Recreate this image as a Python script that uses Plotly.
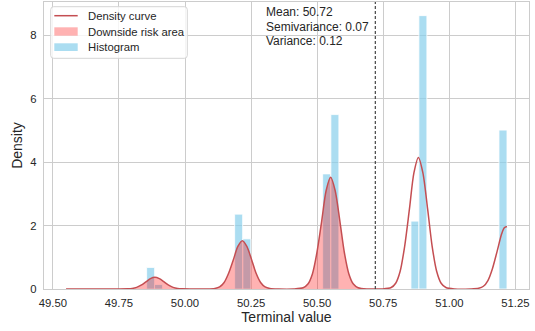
import plotly.graph_objects as go

# ---- data ----
bin_centers = [49.870, 49.900, 50.203, 50.234, 50.536, 50.567, 50.870, 50.900, 51.203]
bin_heights = [0.68, 0.14, 2.36, 1.58, 3.63, 5.50, 2.14, 8.62, 5.01]
bin_width = 0.0303

curve_x = [49.55, 49.75, 49.783, 49.800, 49.817, 49.834, 49.852, 49.869, 49.886, 49.903, 49.921,
           49.938, 49.955, 49.972, 49.990, 50.02,
           50.08, 50.113, 50.131, 50.148, 50.165, 50.183, 50.200, 50.217, 50.234, 50.252, 50.269,
           50.286, 50.303, 50.321, 50.355,
           50.41, 50.447, 50.465, 50.482, 50.499, 50.517, 50.534, 50.551, 50.568, 50.586, 50.603,
           50.620, 50.637, 50.655, 50.69,
           50.72, 50.745, 50.780, 50.797, 50.814, 50.831, 50.849, 50.866, 50.883, 50.900, 50.918,
           50.935, 50.952, 50.969, 50.987, 51.02,
           51.08, 51.111, 51.129, 51.146, 51.163, 51.181, 51.198, 51.208, 51.218]
curve_y = [0.000, 0.000, 0.004, 0.016, 0.050, 0.120, 0.224, 0.327, 0.370, 0.327, 0.224,
           0.120, 0.050, 0.016, 0.004, 0.000,
           0.000, 0.017, 0.067, 0.206, 0.494, 0.922, 1.341, 1.520, 1.341, 0.922, 0.494,
           0.206, 0.067, 0.017, 0.000,
           0.001, 0.039, 0.155, 0.476, 1.143, 2.135, 3.106, 3.520, 3.106, 2.135, 1.143,
           0.476, 0.155, 0.039, 0.000,
           0.000, 0.001, 0.046, 0.182, 0.561, 1.347, 2.517, 3.662, 4.150, 3.662, 2.517,
           1.347, 0.561, 0.182, 0.046, 0.001,
           0.001, 0.022, 0.086, 0.267, 0.640, 1.195, 1.739, 1.930, 1.970]

mean_value = 50.72
semivariance = 0.07
variance = 0.12

x_ticks = [49.50, 49.75, 50.00, 50.25, 50.50, 50.75, 51.00, 51.25]
x_tick_labels = ["49.50", "49.75", "50.00", "50.25", "50.50", "50.75", "51.00", "51.25"]
y_ticks = [0, 2, 4, 6, 8]

legend_labels = ["Density curve", "Downside risk area", "Histogram"]

# downside part of the curve
fill_x = [x for x in curve_x if x <= mean_value]
fill_y = [y for x, y in zip(curve_x, curve_y) if x <= mean_value]

FONT = "Liberation Sans, Arial, sans-serif"
TXT = "#262626"
LINE_C = "#C44E52"
FILL_C = "rgba(255,0,0,0.3)"
BAR_C = "rgba(135,206,235,0.7)"

W, H = 535, 331
ML, MR, MT, MB = 44, 6, 2, 42
PW, PH = W - ML - MR, H - MT - MB


def px(xpix):
    return (xpix - ML) / PW


def py(ypix):
    return (H - MB - ypix) / PH


def rounded_rect_path(x0, y0, x1, y1, r):
    # pixel coords (y down) -> paper-coordinate SVG path with rounded corners
    rx, ry = r / PW, r / PH
    X0, X1, Y0, Y1 = px(x0), px(x1), py(y1), py(y0)  # Y0 bottom, Y1 top
    return (f"M {X0 + rx},{Y0} L {X1 - rx},{Y0} Q {X1},{Y0} {X1},{Y0 + ry} "
            f"L {X1},{Y1 - ry} Q {X1},{Y1} {X1 - rx},{Y1} "
            f"L {X0 + rx},{Y1} Q {X0},{Y1} {X0},{Y1 - ry} "
            f"L {X0},{Y0 + ry} Q {X0},{Y0} {X0 + rx},{Y0} Z")


fig = go.Figure()
fig.add_trace(go.Bar(
    x=bin_centers, y=bin_heights, width=bin_width, name=legend_labels[2],
    marker=dict(color=BAR_C, line=dict(color="white", width=0.8)), showlegend=False,
))
fig.add_trace(go.Scatter(
    x=fill_x, y=fill_y, mode="lines", name=legend_labels[1],
    line=dict(width=0, shape="spline", smoothing=0.8), fill="tozeroy",
    fillcolor=FILL_C, showlegend=False,
))
fig.add_trace(go.Scatter(
    x=curve_x, y=curve_y, mode="lines", name=legend_labels[0],
    line=dict(color=LINE_C, width=1.5, shape="spline", smoothing=0.8), showlegend=False,
))

fig.add_shape(type="line", x0=mean_value, x1=mean_value, y0=0, y1=1, xref="x", yref="paper",
              line=dict(color="#444444", width=1.2, dash="3px,2px"))

# stats text
stats_lines = [f"Mean: {mean_value:.2f}", f"Semivariance: {semivariance:.2f}", f"Variance: {variance:.2f}"]
for txt, ypix in zip(stats_lines, [12, 26.7, 41.3]):
    fig.add_annotation(text=txt, x=px(263.5), y=py(ypix), xref="paper", yref="paper", xanchor="left",
                       yanchor="middle", showarrow=False, font=dict(size=12, color=TXT, family=FONT))

# legend box (drawn like the reference's legend frame)
fig.add_shape(type="path", xref="paper", yref="paper", path=rounded_rect_path(50.7, 6.7, 187.3, 58.3, 3),
              fillcolor="rgba(255,255,255,0.8)", line=dict(color="#d5d5d5", width=1), layer="above")
fig.add_shape(type="line", xref="paper", yref="paper", x0=px(54.3), x1=px(77.7), y0=py(15.7), y1=py(15.7),
              line=dict(color=LINE_C, width=1.5), layer="above")
fig.add_shape(type="rect", xref="paper", yref="paper", x0=px(54.3), x1=px(77.7), y0=py(35.7), y1=py(27.3),
              fillcolor=FILL_C, line=dict(width=0), layer="above")
fig.add_shape(type="rect", xref="paper", yref="paper", x0=px(54.3), x1=px(77.7), y0=py(51), y1=py(43.3),
              fillcolor=BAR_C, line=dict(width=0), layer="above")
for txt, ypix in zip(legend_labels, [15.7, 31.7, 46.7]):
    fig.add_annotation(text=txt, x=px(85.5), y=py(ypix), xref="paper", yref="paper", xanchor="left",
                       yanchor="middle", showarrow=False, font=dict(size=11.3, color=TXT, family=FONT))

fig.update_layout(
    width=W, height=H,
    margin=dict(l=ML, r=MR, t=MT, b=MB),
    paper_bgcolor="white", plot_bgcolor="white",
    font=dict(family=FONT, color=TXT, size=11.3),
    showlegend=False,
    xaxis=dict(range=[49.4666, 51.3014], tickvals=x_ticks, ticktext=x_tick_labels,
               showgrid=True, gridcolor="#cccccc", gridwidth=1, zeroline=False,
               showline=True, mirror=True, linecolor="#cccccc", linewidth=1.25,
               ticks="", ticklabelstandoff=3, tickfont=dict(size=11.3),
               title=dict(text="Terminal value", font=dict(size=14), standoff=3), automargin=False),
    yaxis=dict(range=[0, 9.05], tickvals=y_ticks, showgrid=True, gridcolor="#cccccc", gridwidth=1,
               zeroline=False, showline=True, mirror=True, linecolor="#cccccc", linewidth=1.25,
               ticks="", ticklabelstandoff=4, tickfont=dict(size=11.3),
               title=dict(text="Density", font=dict(size=14), standoff=4), automargin=False),
)

fig.write_html("out.html", config={"displayModeBar": False},
               post_script="document.body.style.margin='0px';document.body.style.overflow='hidden';")
